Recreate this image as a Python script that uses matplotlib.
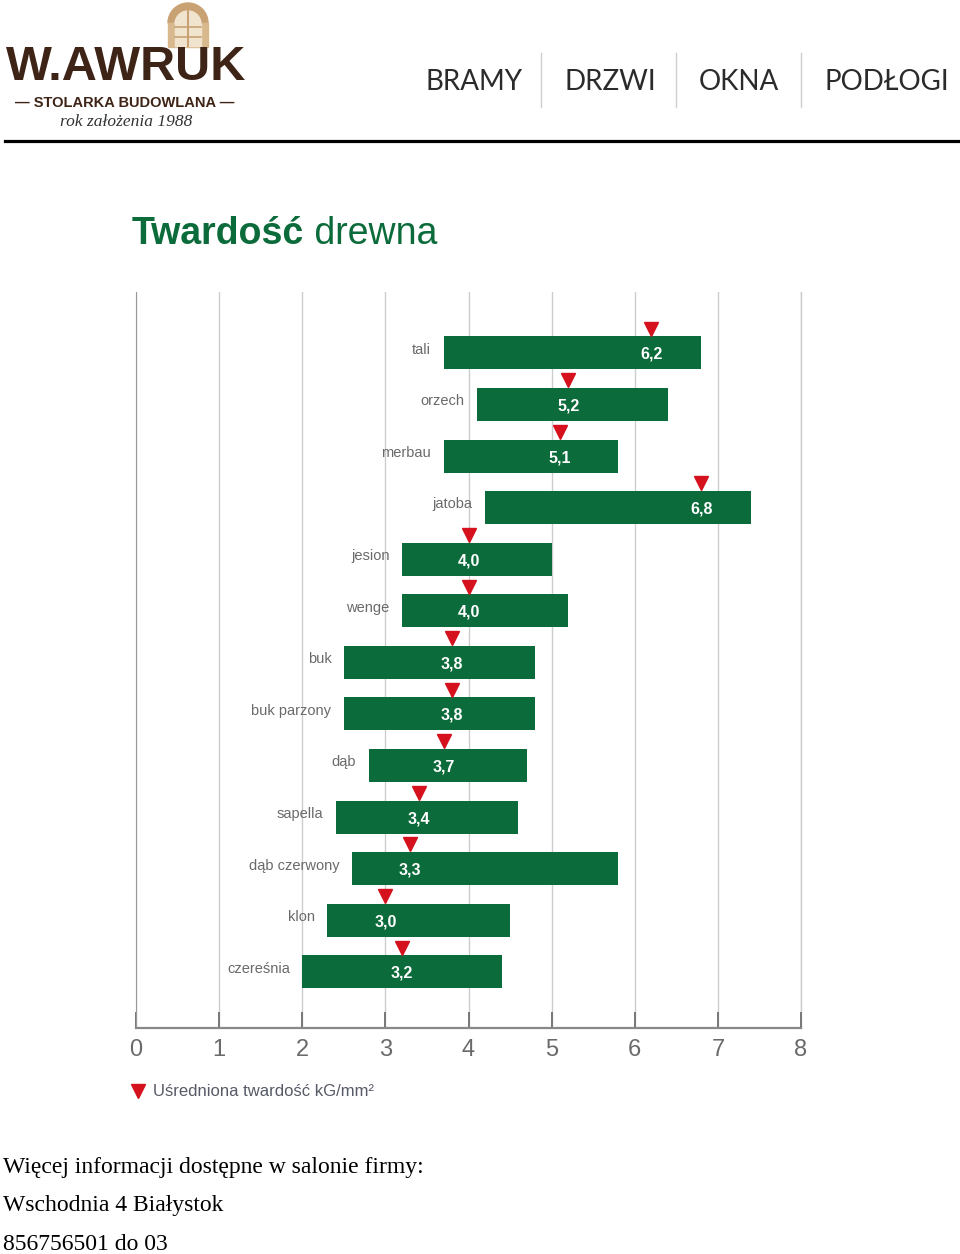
import numpy as np
import matplotlib
matplotlib.use("Agg")
import matplotlib.pyplot as plt
from matplotlib.lines import Line2D
from matplotlib.patches import Wedge, Rectangle

# twardość drewna: zakres (od, do) i wartość uśredniona, kG/mm2
gatunki = ["tali", "orzech", "merbau", "jatoba", "jesion", "wenge", "buk",
           "buk parzony", "dąb", "sapella", "dąb czerwony", "klon", "czereśnia"]
od = [3.7, 4.1, 3.7, 4.2, 3.2, 3.2, 2.5, 2.5, 2.8, 2.4, 2.6, 2.3, 2.0]
do = [6.8, 6.4, 5.8, 7.4, 5.0, 5.2, 4.8, 4.8, 4.7, 4.6, 5.8, 4.5, 4.4]
srednia = [6.2, 5.2, 5.1, 6.8, 4.0, 4.0, 3.8, 3.8, 3.7, 3.4, 3.3, 3.0, 3.2]
osx = [0, 1, 2, 3, 4, 5, 6, 7, 8]

menu = ["BRAMY", "DRZWI", "OKNA", "PODŁOGI"]
stopka = ["Więcej informacji dostępne w salonie firmy:",
          "Wschodnia 4 Białystok",
          "856756501 do 03"]

ZIELONY = "#0b6b3a"
CZERWONY = "#d4111c"
SZARY = "#6a6a6a"
W, H = 960, 1254

fig = plt.figure(figsize=(W / 100, H / 100), dpi=100)

# tło w pikselach: nagłówek, tytuł, stopka
bg = fig.add_axes([0, 0, 1, 1])
bg.set_xlim(0, W)
bg.set_ylim(H, 0)
bg.axis("off")

# logo - łuk okna
bg.add_patch(Wedge((188, 23), 20, 180, 360, color="#c9a273", zorder=1))
bg.add_patch(Rectangle((168, 23), 40, 24, color="#d8b98e", zorder=1))
bg.add_patch(Wedge((188, 24), 13, 180, 360, color="#f1e4cf", zorder=1))
bg.add_patch(Rectangle((175, 24), 26, 22, color="#f1e4cf", zorder=1))
bg.plot([188, 188], [11, 46], color="#c9a273", lw=1.5, zorder=1)
bg.plot([175, 201], [27, 27], color="#c9a273", lw=1.2, zorder=1)
bg.plot([175, 201], [37, 37], color="#c9a273", lw=1.2, zorder=1)

bg.text(126, 68, "W.AWRUK", family="Liberation Sans", weight="bold",
        fontsize=35, color="#3e2416", ha="center", va="center", zorder=2)
bg.text(125, 103, "— STOLARKA BUDOWLANA —", family="Liberation Sans",
        weight="bold", fontsize=10.5, color="#3e2416", ha="center", va="center")
bg.text(126, 122, "rok założenia 1988", family="Liberation Serif",
        style="italic", fontsize=12.5, color="#333333", ha="center", va="center")

for nazwa, xc in zip(menu, [474, 610, 739, 887]):
    bg.text(xc, 82, nazwa, family="Lato", fontsize=20, color="#2b2b2b",
            ha="center", va="center")
for xs in [541, 676, 801]:
    bg.plot([xs, xs], [53, 107], color="#cfcfcf", lw=1)
bg.plot([5, 958], [141, 141], color="black", lw=2.3)

t1 = bg.text(132, 252, "Twardość", family="Liberation Sans", weight="bold",
             fontsize=27, color=ZIELONY, ha="left", va="bottom")
bg.annotate(" drewna", xy=(1, 0), xycoords=t1, family="Liberation Sans",
            fontsize=27, color=ZIELONY, ha="left", va="bottom")

for i, linia in enumerate(stopka):
    bg.text(3, 1167 + 39 * i, linia, family="Liberation Serif", fontsize=17,
            color="black", ha="left", va="center")

# wykres
ax = fig.add_axes([136 / W, 1 - 1028 / H, 665 / W, 736 / H])
y = np.arange(len(gatunki))
ax.barh(y, np.array(do) - np.array(od), left=od, height=0.64,
        color=ZIELONY, zorder=3)
ax.plot(srednia, y - 0.47, linestyle="none", marker="v", markersize=10,
        color=CZERWONY, zorder=4)
for yi, g, a, s in zip(y, gatunki, od, srednia):
    ax.text(a - 0.15, yi - 0.06, g, family="Liberation Sans", fontsize=10.5,
            color=SZARY, ha="right", va="center")
    ax.text(s, yi + 0.03, f"{s:.1f}".replace(".", ","), family="Liberation Sans",
            weight="bold", fontsize=11.5, color="white", ha="center",
            va="center", zorder=5)

ax.set_xlim(0, 8)
ax.set_ylim(13.09, -1.18)
ax.set_xticks(osx)
ax.set_xticklabels([str(v) for v in osx], family="Liberation Sans",
                   fontsize=17, color="#6a6a6a")
ax.set_yticks([])
ax.tick_params(axis="x", direction="in", length=11.5, width=1.4,
               color="#777777", pad=8)
ax.grid(axis="x", color="#cccccc", lw=1, zorder=0)
ax.axvline(osx[-1], color="#cccccc", lw=1, zorder=0, clip_on=False)
for side in ["top", "right"]:
    ax.spines[side].set_visible(False)
ax.spines["left"].set_color("#999999")
ax.spines["bottom"].set_color("#888888")
ax.spines["bottom"].set_linewidth(1.6)
ax.set_facecolor("none")

znacznik = Line2D([], [], linestyle="none", marker="v", markersize=10,
                  color=CZERWONY)
fig.legend(handles=[znacznik], labels=["Uśredniona twardość kG/mm²"],
           loc="center left", bbox_to_anchor=(130 / W, 1 - 1092 / H),
           frameon=False, handlelength=1, handletextpad=0.4, borderpad=0,
           borderaxespad=0, prop={"family": "Liberation Sans", "size": 12},
           labelcolor="#555a66")

fig.savefig("out.png", dpi=100)
